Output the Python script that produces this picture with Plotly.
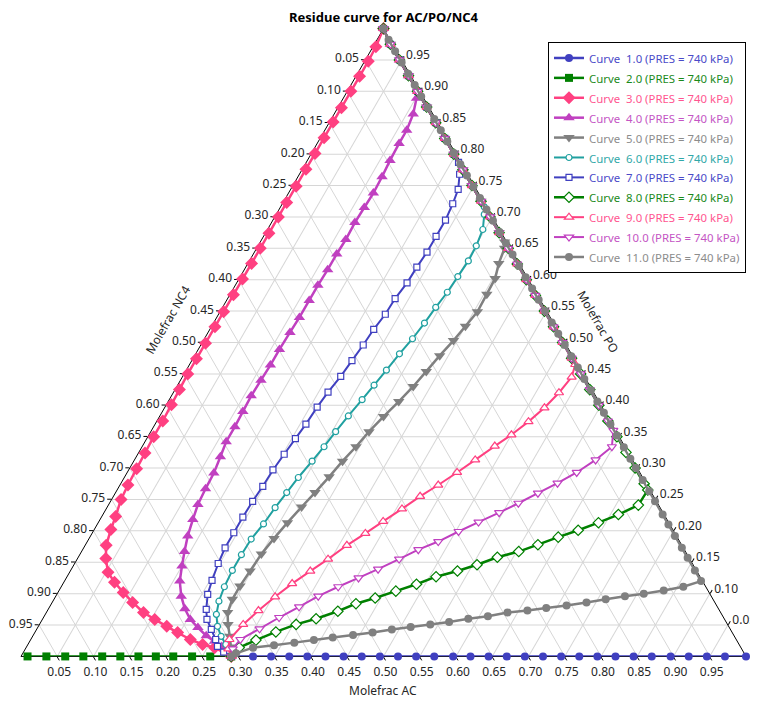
import plotly.graph_objects as go

FONT = "Noto Sans"

# ---------------- data: mole fractions (PO = ternary a, AC = ternary c, NC4 = rest) ----------------
# shared stretch along the PO-AC edge (curves follow it up to the PO vertex)
edge_po = [1.000, 0.975, 0.950, 0.925, 0.900, 0.875, 0.850, 0.825, 0.800, 0.775,
           0.750, 0.725, 0.700, 0.675, 0.650, 0.625, 0.600, 0.575, 0.550, 0.525,
           0.500, 0.475, 0.450, 0.425, 0.400, 0.375, 0.350, 0.325, 0.300, 0.275]
edge_ac = [0.000, 0.022, 0.047, 0.072, 0.097, 0.122, 0.147, 0.172, 0.197, 0.222,
           0.247, 0.272, 0.297, 0.322, 0.347, 0.372, 0.397, 0.422, 0.447, 0.472,
           0.497, 0.522, 0.547, 0.572, 0.597, 0.622, 0.647, 0.672, 0.697, 0.722]

c1_po = [0.000, 0.000, 0.000, 0.000, 0.000, 0.000, 0.000, 0.000, 0.000, 0.000,
         0.000, 0.000, 0.000, 0.000, 0.000, 0.000, 0.000, 0.000, 0.000, 0.000,
         0.000, 0.000, 0.000, 0.000, 0.000, 0.000, 0.000, 0.000, 0.000]
c1_ac = [0.290, 0.320, 0.345, 0.370, 0.395, 0.420, 0.445, 0.470, 0.495, 0.520,
         0.545, 0.570, 0.596, 0.620, 0.645, 0.670, 0.695, 0.720, 0.745, 0.770,
         0.795, 0.820, 0.845, 0.870, 0.896, 0.921, 0.946, 0.971, 1.000]

c2_po = [0.000, 0.000, 0.000, 0.000, 0.000, 0.000, 0.000, 0.000, 0.000, 0.000,
         0.000, 0.000]
c2_ac = [0.009, 0.035, 0.061, 0.086, 0.112, 0.137, 0.162, 0.186, 0.210, 0.236,
         0.261, 0.290]

c3_po = [1.000, 0.971, 0.948, 0.924, 0.900, 0.874, 0.851, 0.826, 0.801, 0.776,
         0.749, 0.723, 0.700, 0.674, 0.650, 0.626, 0.601, 0.576, 0.549, 0.525,
         0.499, 0.474, 0.450, 0.425, 0.401, 0.375, 0.350, 0.324, 0.299, 0.273,
         0.250, 0.223, 0.202, 0.177, 0.156, 0.134, 0.118, 0.102, 0.086, 0.070,
         0.059, 0.048, 0.038, 0.027, 0.019, 0.014, 0.000]
c3_ac = [0.000, 0.004, 0.005, 0.005, 0.005, 0.005, 0.005, 0.005, 0.005, 0.005,
         0.005, 0.005, 0.005, 0.005, 0.005, 0.005, 0.005, 0.005, 0.005, 0.005,
         0.005, 0.005, 0.005, 0.006, 0.007, 0.008, 0.008, 0.009, 0.010, 0.011,
         0.013, 0.019, 0.023, 0.029, 0.039, 0.053, 0.070, 0.090, 0.111, 0.134,
         0.155, 0.177, 0.197, 0.220, 0.241, 0.260, 0.290]

c4_po = edge_po[:5] + [0.889, 0.864, 0.838, 0.817, 0.790, 0.764, 0.738, 0.715, 0.691, 0.664,
                       0.641, 0.616, 0.591, 0.567, 0.540, 0.516, 0.489, 0.464, 0.440, 0.415,
                       0.390, 0.366, 0.342, 0.318, 0.292, 0.267, 0.242, 0.218, 0.192, 0.167,
                       0.144, 0.120, 0.096, 0.076, 0.059, 0.046, 0.033, 0.024, 0.016, 0.000]
c4_ac = edge_ac[:5] + [0.101, 0.109, 0.113, 0.113, 0.114, 0.116, 0.117, 0.116, 0.115, 0.116,
                       0.115, 0.115, 0.114, 0.114, 0.114, 0.113, 0.112, 0.112, 0.111, 0.110,
                       0.111, 0.112, 0.112, 0.116, 0.120, 0.121, 0.123, 0.128, 0.134, 0.142,
                       0.150, 0.159, 0.173, 0.188, 0.204, 0.221, 0.239, 0.255, 0.269, 0.290]

c5_po = edge_po[:14] + [0.660, 0.650, 0.626, 0.602, 0.577, 0.549, 0.526, 0.503, 0.479, 0.454,
                        0.430, 0.406, 0.382, 0.358, 0.334, 0.311, 0.286, 0.261, 0.238, 0.213,
                        0.188, 0.163, 0.136, 0.112, 0.091, 0.070, 0.051, 0.032, 0.015, 0.000]
c5_ac = edge_ac[:14] + [0.337, 0.342, 0.346, 0.353, 0.354, 0.355, 0.350, 0.345, 0.338, 0.332,
                        0.326, 0.318, 0.309, 0.301, 0.295, 0.288, 0.282, 0.275, 0.268, 0.261,
                        0.255, 0.250, 0.248, 0.246, 0.246, 0.250, 0.260, 0.272, 0.282, 0.290]

c6_po = edge_po[:12] + [0.716, 0.704, 0.680, 0.654, 0.630, 0.605, 0.580, 0.556, 0.531, 0.506,
                        0.482, 0.456, 0.432, 0.409, 0.383, 0.358, 0.334, 0.311, 0.285, 0.261,
                        0.237, 0.211, 0.187, 0.162, 0.137, 0.111, 0.088, 0.067, 0.048, 0.032,
                        0.019, 0.008, 0.000]
c6_ac = edge_ac[:12] + [0.281, 0.287, 0.297, 0.301, 0.302, 0.300, 0.298, 0.294, 0.291, 0.287,
                        0.281, 0.276, 0.271, 0.266, 0.260, 0.255, 0.251, 0.246, 0.240, 0.236,
                        0.232, 0.229, 0.224, 0.223, 0.223, 0.225, 0.229, 0.236, 0.247, 0.260,
                        0.273, 0.282, 0.290]

c7_po = edge_po[:9] + [0.787, 0.768, 0.744, 0.721, 0.695, 0.669, 0.644, 0.620, 0.595, 0.570,
                       0.545, 0.521, 0.496, 0.471, 0.446, 0.421, 0.397, 0.370, 0.347, 0.322,
                       0.297, 0.271, 0.247, 0.222, 0.197, 0.173, 0.148, 0.121, 0.099, 0.075,
                       0.059, 0.043, 0.027, 0.016, 0.007, 0.000]
c7_ac = edge_ac[:9] + [0.210, 0.221, 0.231, 0.235, 0.238, 0.238, 0.238, 0.236, 0.235, 0.231,
                       0.230, 0.226, 0.224, 0.221, 0.218, 0.213, 0.210, 0.208, 0.205, 0.202,
                       0.199, 0.198, 0.196, 0.195, 0.195, 0.195, 0.198, 0.203, 0.208, 0.218,
                       0.227, 0.241, 0.255, 0.263, 0.276, 0.290]

c8_po = edge_po[:30] + [0.265, 0.241, 0.226, 0.213, 0.201, 0.190, 0.178, 0.167, 0.158, 0.146,
                        0.136, 0.127, 0.115, 0.104, 0.093, 0.084, 0.072, 0.060, 0.051, 0.039,
                        0.026, 0.014, 0.000]
c8_ac = edge_ac[:30] + [0.732, 0.731, 0.711, 0.690, 0.668, 0.646, 0.624, 0.603, 0.578, 0.556,
                        0.534, 0.509, 0.488, 0.465, 0.442, 0.420, 0.401, 0.377, 0.354, 0.332,
                        0.311, 0.294, 0.290]

c9_po = edge_po[:22] + [0.465, 0.445, 0.420, 0.396, 0.374, 0.353, 0.335, 0.313, 0.293, 0.273,
                        0.255, 0.235, 0.215, 0.196, 0.177, 0.155, 0.136, 0.116, 0.095, 0.073,
                        0.051, 0.027, 0.012, 0.000]
c9_ac = edge_ac[:22] + [0.532, 0.537, 0.532, 0.524, 0.513, 0.500, 0.486, 0.470, 0.455, 0.439,
                        0.423, 0.408, 0.392, 0.377, 0.361, 0.346, 0.331, 0.316, 0.303, 0.291,
                        0.281, 0.274, 0.280, 0.290]

c10_po = edge_po[:26] + [0.360, 0.334, 0.313, 0.293, 0.276, 0.260, 0.244, 0.229, 0.214, 0.199,
                         0.183, 0.170, 0.155, 0.139, 0.125, 0.111, 0.096, 0.079, 0.062, 0.044,
                         0.027, 0.012, 0.000]
c10_ac = edge_ac[:26] + [0.637, 0.648, 0.636, 0.620, 0.602, 0.583, 0.564, 0.545, 0.524, 0.504,
                         0.484, 0.463, 0.444, 0.423, 0.403, 0.382, 0.362, 0.344, 0.325, 0.307,
                         0.289, 0.286, 0.290]

c11_po = [0.000, 0.005, 0.014, 0.018, 0.022, 0.026, 0.030, 0.034, 0.038, 0.043,
          0.047, 0.051, 0.055, 0.060, 0.064, 0.070, 0.073, 0.077, 0.081, 0.086,
          0.091, 0.096, 0.100, 0.105, 0.111, 0.120,
          0.137, 0.157, 0.173, 0.192, 0.210, 0.226, 0.247, 0.263, 0.281, 0.300,
          0.315, 0.333, 0.352, 0.370, 0.388, 0.406, 0.424, 0.442, 0.460, 0.478,
          0.496, 0.514, 0.532, 0.550, 0.568, 0.586, 0.604, 0.622, 0.640, 0.658,
          0.676, 0.694, 0.712, 0.730, 0.748, 0.766, 0.784, 0.802, 0.820, 0.838,
          0.856, 0.874, 0.892, 0.910, 0.928, 0.946, 0.964, 0.982, 1.000]
c11_ac = [0.290, 0.294, 0.313, 0.340, 0.366, 0.391, 0.415, 0.441, 0.466, 0.490,
          0.514, 0.539, 0.563, 0.587, 0.612, 0.636, 0.662, 0.686, 0.712, 0.737,
          0.761, 0.785, 0.809, 0.834, 0.858, 0.878,
          0.861, 0.841, 0.825, 0.806, 0.788, 0.772, 0.751, 0.735, 0.717, 0.698,
          0.683, 0.665, 0.646, 0.628, 0.610, 0.592, 0.574, 0.556, 0.538, 0.520,
          0.502, 0.484, 0.466, 0.448, 0.430, 0.412, 0.394, 0.376, 0.358, 0.340,
          0.322, 0.304, 0.286, 0.268, 0.250, 0.232, 0.214, 0.196, 0.178, 0.160,
          0.142, 0.124, 0.106, 0.088, 0.070, 0.052, 0.034, 0.016, 0.000]

curve_ids = ["1.0", "2.0", "3.0", "4.0", "5.0", "6.0", "7.0", "8.0", "9.0", "10.0", "11.0"]
pressure_kpa = 740

# grid / tick values and the labels shown on each edge
grid_vals = [0.05, 0.10, 0.15, 0.20, 0.25, 0.30, 0.35, 0.40, 0.45, 0.50,
             0.55, 0.60, 0.65, 0.70, 0.75, 0.80, 0.85, 0.90, 0.95]
grid_text_rev = ["0.95", "0.90", "0.85", "0.80", "0.75", "0.70", "0.65", "0.60", "0.55", "0.50",
                 "0.45", "0.40", "0.35", "0.30", "0.25", "0.20", "0.15", "0.10", "0.05"]

series = [(c1_po, c1_ac), (c2_po, c2_ac), (c3_po, c3_ac), (c4_po, c4_ac), (c5_po, c5_ac),
          (c6_po, c6_ac), (c7_po, c7_ac), (c8_po, c8_ac), (c9_po, c9_ac), (c10_po, c10_ac),
          (c11_po, c11_ac)]
for p, a in series:
    assert len(p) == len(a), (len(p), len(a))

# ---------------- styles ----------------
styles = [
    dict(color="#4040C0", legend="#4a4ac8", symbol="circle",        size=8,  open=False, width=2.5),
    dict(color="#008000", legend="#1a8a1a", symbol="square",        size=8,  open=False, width=2.5),
    dict(color="#FF4081", legend="#ff5590", symbol="diamond",       size=10, open=False, width=2.5),
    dict(color="#C040C0", legend="#c455c4", symbol="triangle-up",   size=10, open=False, width=2.5),
    dict(color="#808080", legend="#8c8c8c", symbol="triangle-down", size=10, open=False, width=2.5),
    dict(color="#20A0A0", legend="#30a8a8", symbol="circle",        size=6,  open=True,  width=2.0),
    dict(color="#4040C0", legend="#4a4ac8", symbol="square",        size=6,  open=True,  width=2.0),
    dict(color="#008000", legend="#1a8a1a", symbol="diamond",       size=8,  open=True,  width=2.5),
    dict(color="#FF4081", legend="#ff5590", symbol="triangle-up",   size=8,  open=True,  width=2.0),
    dict(color="#C040C0", legend="#c455c4", symbol="triangle-down", size=8,  open=True,  width=2.0),
    dict(color="#808080", legend="#8c8c8c", symbol="circle",        size=8,  open=False, width=2.5),
]

fig = go.Figure()
for cid, (po, ac), st in zip(curve_ids, series, styles):
    if st["open"]:
        marker = dict(symbol=st["symbol"], size=st["size"], color="white",
                      line=dict(color=st["color"], width=1.2))
    else:
        marker = dict(symbol=st["symbol"], size=st["size"], color=st["color"],
                      line=dict(width=0))
    label = (f'<span style="color:{st["legend"]};font-size:11.4px">'
             f'Curve\u00a0\u00a0{cid} (PRES = {pressure_kpa} kPa)</span>')
    fig.add_trace(go.Scatterternary(
        a=po, c=ac, mode="lines+markers", name=label,
        line=dict(color=st["color"], width=st["width"]),
        marker=marker, cliponaxis=False,
    ))


def tern_axis(ticktext):
    return dict(
        tickmode="array", tickvals=grid_vals, ticktext=ticktext,
        showgrid=True, gridcolor="#d6d6d6", gridwidth=1,
        showline=True, linecolor="black", linewidth=1,
        ticks="outside", ticklen=4, tickcolor="black", tickwidth=1,
        tickfont=dict(family=FONT, size=12, color="#262626"),
        layer="below traces", min=0, title=dict(text=""),
    )


# the page adds an 8 px body margin, so the figure is shifted by 8 px
W, H = 754, 694
fig.update_layout(
    width=W, height=H,
    margin=dict(l=13, r=16, t=20, b=45),
    paper_bgcolor="white",
    font=dict(family=FONT, size=12, color="#262626"),
    title=dict(text="<b>Residue curve for AC/PO/NC4</b>", x=0.5, xref="paper", xanchor="center",
               y=1 - 9.5 / H, yref="container", yanchor="middle",
               font=dict(family=FONT, size=13, color="black")),
    ternary=dict(
        sum=1, bgcolor="white", domain=dict(x=[0, 1], y=[0, 1]),
        aaxis=tern_axis(grid_text_rev),
        baxis=tern_axis(grid_text_rev),
        caxis=tern_axis(grid_text_rev),
    ),
    showlegend=True,
    legend=dict(x=1.0, xanchor="right", y=0.9777, yanchor="top",
                bgcolor="white", bordercolor="black", borderwidth=1,
                font=dict(family=FONT, size=13), itemwidth=30, tracegroupgap=0),
    annotations=[
        dict(text="Molefrac AC", xref="paper", yref="paper", x=0.499, y=-0.054,
             xanchor="center", yanchor="middle",
             showarrow=False, font=dict(family=FONT, size=12, color="#262626")),
        dict(text="Molefrac NC4", xref="paper", yref="paper", x=0.203, y=0.536,
             xanchor="center", yanchor="middle",
             showarrow=False, textangle=-60, font=dict(family=FONT, size=12, color="#262626")),
        dict(text="Molefrac PO", xref="paper", yref="paper", x=0.796, y=0.534,
             xanchor="center", yanchor="middle",
             showarrow=False, textangle=60, font=dict(family=FONT, size=12, color="#262626")),
    ],
)

fig.write_html("out.html")
